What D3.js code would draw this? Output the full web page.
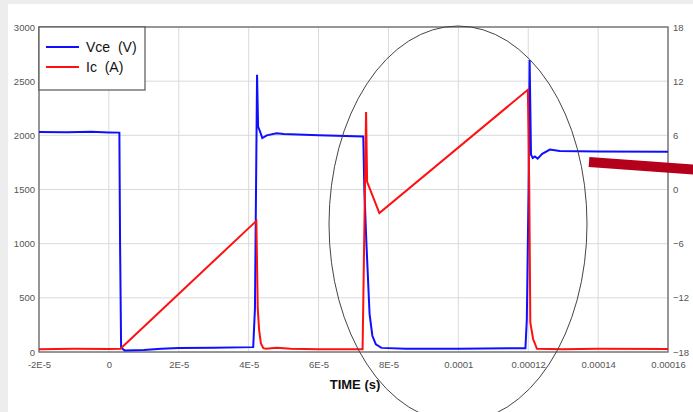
<!DOCTYPE html>
<html>
<head>
<meta charset="utf-8">
<script src="https://cdn.jsdelivr.net/npm/d3@7"></script>
<style>
  body { margin: 0; background: #ededed; }
  svg { display: block; font-family: Arial, "Liberation Sans", sans-serif; }
</style>
</head>
<body>
<script>
// time in microseconds
const vceTime = [-20, -12, -5, 0, 3.0, 3.2, 3.5, 4.5, 10, 15, 20, 30, 41.3, 41.8, 42.4, 42.7, 43.2, 43.9, 45.2, 48, 50, 60, 72.8, 73.1, 73.7, 74.6, 75.4, 76.4, 78, 85, 100, 119.2, 119.6, 120.1, 120.4, 120.8, 121.3, 121.9, 122.7, 124, 126.2, 129, 140, 160];
const vceValues = [2030, 2028, 2032, 2027, 2025, 1000, 40, 15, 18, 30, 38, 40, 45, 400, 2560, 2080, 2040, 1975, 2000, 2020, 2012, 2000, 1990, 1500, 1000, 350, 150, 70, 38, 30, 30, 35, 300, 1500, 2695, 1820, 1790, 1805, 1785, 1830, 1868, 1856, 1850, 1848];

const icTime = [-20, -10, 0, 3.3, 42.2, 42.6, 43.0, 43.5, 44.2, 45, 48, 52, 60, 72.6, 73.6, 73.9, 77.4, 119.9, 120.3, 120.6, 121.4, 122.5, 130, 140, 160];
const icValues = [25, 30, 28, 30, 1210, 400, 200, 80, 35, 30, 40, 30, 25, 25, 2215, 1570, 1283, 2420, 1500, 270, 120, 30, 25, 30, 28];

const xTicks = [-20, 0, 20, 40, 60, 80, 100, 120, 140, 160];
const xTickLabels = ['-2E-5', '0', '2E-5', '4E-5', '6E-5', '8E-5', '0.0001', '0.00012', '0.00014', '0.00016'];
const yTicks = [0, 500, 1000, 1500, 2000, 2500, 3000];
const y2Ticks = [-18, -12, -6, 0, 6, 12, 18];

const seriesNames = ['Vce  (V)', 'Ic  (A)'];
const seriesColors = ['#0f0fff', '#ff1010'];

const width = 693;
const height = 412;
const margin = { left: 39, right: 25, top: 27, bottom: 60 };

const render = () => {
  const svg = d3.select('body')
    .append('svg')
      .attr('width', width)
      .attr('height', height);

  svg.append('rect')
    .attr('x', 8).attr('y', 4)
    .attr('width', width - 8).attr('height', height - 4)
    .attr('fill', '#fff');

  const xScale = d3.scaleLinear()
    .domain([-20, 160])
    .range([margin.left, width - margin.right]);
  const yScale = d3.scaleLinear()
    .domain([0, 3000])
    .range([height - margin.bottom, margin.top]);
  const y2Scale = d3.scaleLinear()
    .domain([-18, 18])
    .range([height - margin.bottom, margin.top]);

  // grid
  svg.append('g')
    .selectAll('line')
    .data(xTicks)
    .enter()
    .append('line')
      .attr('x1', d => xScale(d)).attr('x2', d => xScale(d))
      .attr('y1', margin.top).attr('y2', height - margin.bottom)
      .attr('stroke', '#dadada');
  svg.append('g')
    .selectAll('line')
    .data(yTicks)
    .enter()
    .append('line')
      .attr('x1', margin.left).attr('x2', width - margin.right)
      .attr('y1', d => yScale(d)).attr('y2', d => yScale(d))
      .attr('stroke', '#dadada');

  // axes
  const xAxis = svg.append('g')
    .attr('transform', `translate(0,${height - margin.bottom})`)
    .call(d3.axisBottom(xScale).tickValues(xTicks)
      .tickFormat((d, i) => xTickLabels[i]).tickSize(0).tickPadding(9));
  const yAxis = svg.append('g')
    .attr('transform', `translate(${margin.left},0)`)
    .call(d3.axisLeft(yScale).tickValues(yTicks).tickSize(0).tickPadding(4).tickFormat(d3.format('d')));
  const y2Axis = svg.append('g')
    .attr('transform', `translate(${width - margin.right},0)`)
    .call(d3.axisRight(y2Scale).tickValues(y2Ticks).tickSize(0).tickPadding(5).tickFormat(d3.format('d')));

  [xAxis, yAxis, y2Axis].forEach(g => {
    g.select('.domain').remove();
    g.selectAll('text')
      .attr('font-size', 9.5)
      .attr('font-family', 'Arial, "Liberation Sans", sans-serif')
      .attr('fill', '#555');
  });

  svg.append('rect')
    .attr('x', margin.left).attr('y', margin.top)
    .attr('width', width - margin.left - margin.right)
    .attr('height', height - margin.top - margin.bottom)
    .attr('fill', 'none')
    .attr('stroke', '#7a7a7a')
    .attr('stroke-width', 1.5);

  // traces
  const line = d3.line()
    .x(d => xScale(d[0]))
    .y(d => yScale(d[1]));

  const icData = icTime.map((t, i) => [t, icValues[i]]);
  const vceData = vceTime.map((t, i) => [t, vceValues[i]]);

  svg.append('path')
    .datum(vceData)
    .attr('d', line)
    .attr('fill', 'none')
    .attr('stroke', seriesColors[0])
    .attr('stroke-width', 2);
  svg.append('path')
    .datum(icData)
    .attr('d', line)
    .attr('fill', 'none')
    .attr('stroke', seriesColors[1])
    .attr('stroke-width', 2);

  // legend
  const legend = svg.append('g');
  legend.append('rect')
    .attr('x', margin.left).attr('y', margin.top)
    .attr('width', 106).attr('height', 63)
    .attr('fill', '#fff')
    .attr('stroke', '#555')
    .attr('stroke-width', 1.2);
  seriesNames.forEach((name, i) => {
    legend.append('line')
      .attr('x1', 46).attr('x2', 79)
      .attr('y1', 47 + i * 20).attr('y2', 47 + i * 20)
      .attr('stroke', seriesColors[i])
      .attr('stroke-width', 2);
    legend.append('text')
      .attr('x', 86).attr('y', 52 + i * 20)
      .attr('font-size', 14)
      .attr('fill', '#111')
      .style('white-space', 'pre')
      .text(name);
  });

  svg.append('text')
    .attr('x', 355).attr('y', 389)
    .attr('text-anchor', 'middle')
    .attr('font-size', 13)
    .attr('font-weight', 'bold')
    .attr('fill', '#111')
    .text('TIME (s)');

  // annotation: ellipse around the second pulse and a pointer
  svg.append('ellipse')
    .attr('cx', 458).attr('cy', 224)
    .attr('rx', 129).attr('ry', 198)
    .attr('fill', 'none')
    .attr('stroke', '#444')
    .attr('stroke-width', 1);

  svg.append('line')
    .attr('x1', 589).attr('y1', 162)
    .attr('x2', 700).attr('y2', 170)
    .attr('stroke', '#b5001c')
    .attr('stroke-width', 10);
};

render();
</script>
</body>
</html>
